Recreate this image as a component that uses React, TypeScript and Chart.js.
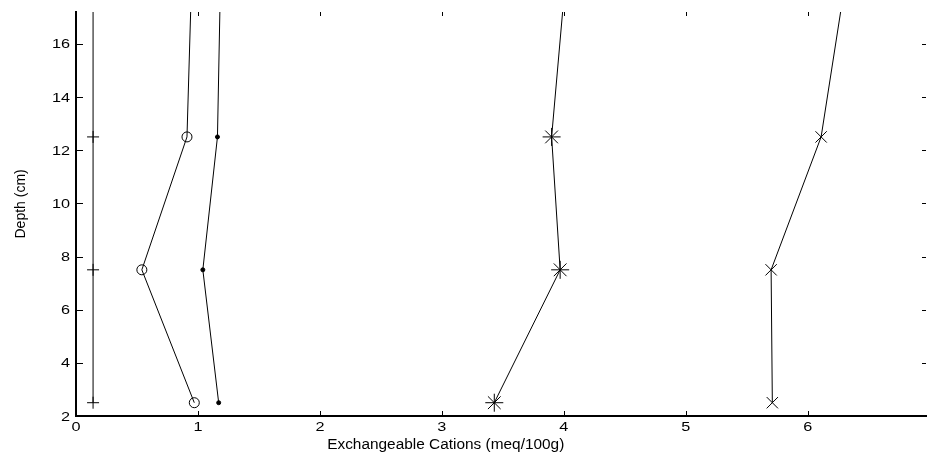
import React, { useEffect, useRef } from "react";
import { Chart, registerables } from "chart.js";

Chart.register(...registerables);

// Depths (cm) — last depth lies above the visible axis and is clipped
const depths = [2.5, 7.5, 12.5, 17.5];

// Exchangeable cations (meq/100g) per series
const seriesPlus = [0.14, 0.14, 0.14, 0.14];
const seriesCircle = [0.97, 0.54, 0.91, 0.942];
const seriesDot = [1.17, 1.04, 1.16, 1.181];
const seriesStar = [3.43, 3.97, 3.9, 3.996];
const seriesX = [5.71, 5.7, 6.11, 6.28];

const xTicks = [0, 1, 2, 3, 4, 5, 6];
const yTicks = [2, 4, 6, 8, 10, 12, 14, 16];

const xTitle = "Exchangeable Cations (meq/100g)";
const yTitle = "Depth (cm)";

const FONT = "'Liberation Sans', Arial, sans-serif";

function pts(xs: number[]) {
  return xs.map((x, i) => ({ x, y: depths[i] }));
}

function radii(r: number) {
  return depths.map((d) => (d > 17.2 ? 0 : r));
}

const decorPlugin = {
  id: "decor",
  afterDraw(chart: any) {
    const { ctx, chartArea } = chart;
    const xs = chart.scales.x;
    const ys = chart.scales.y;
    ctx.save();
    ctx.strokeStyle = "#000";
    ctx.lineWidth = 1;
    ctx.beginPath();
    xTicks.forEach((v) => {
      const px = Math.round(xs.getPixelForValue(v)) + 0.5;
      ctx.moveTo(px, chartArea.bottom);
      ctx.lineTo(px, chartArea.bottom - 5);
      ctx.moveTo(px, chartArea.top);
      ctx.lineTo(px, chartArea.top + 4);
    });
    yTicks.forEach((v) => {
      const py = Math.round(ys.getPixelForValue(v)) + 0.5;
      ctx.moveTo(chartArea.left, py);
      ctx.lineTo(chartArea.left + 7, py);
      ctx.moveTo(chartArea.right, py);
      ctx.lineTo(chartArea.right - 4, py);
    });
    ctx.stroke();

    ctx.fillStyle = "#000";
    // tick labels (slightly widened glyphs like the original rendering)
    ctx.font = `13px ${FONT}`;
    ctx.textBaseline = "middle";
    ctx.textAlign = "center";
    xTicks.forEach((v) => {
      ctx.save();
      ctx.translate(xs.getPixelForValue(v), chartArea.bottom + 11);
      ctx.scale(1.25, 1);
      ctx.fillText(String(v), 0, 0);
      ctx.restore();
    });
    ctx.textAlign = "right";
    yTicks.forEach((v) => {
      ctx.save();
      ctx.translate(chartArea.left - 6, ys.getPixelForValue(v) + 1);
      ctx.scale(1.25, 1);
      ctx.fillText(String(v), 0, 0);
      ctx.restore();
    });

    // axis titles
    ctx.font = `14px ${FONT}`;
    ctx.textAlign = "center";
    ctx.textBaseline = "alphabetic";
    const cx = chartArea.left + 0.435 * (chartArea.right - chartArea.left);
    ctx.save();
    ctx.translate(cx, chartArea.bottom + 33);
    ctx.scale(1.1, 1);
    ctx.fillText(xTitle, 0, 0);
    ctx.restore();

    ctx.translate(21, chartArea.top + 0.475 * (chartArea.bottom - chartArea.top));
    ctx.rotate(-Math.PI / 2);
    ctx.textBaseline = "middle";
    ctx.fillText(yTitle, 0, 0);
    ctx.restore();
  },
};

export default function App() {
  const ref = useRef<HTMLCanvasElement | null>(null);

  useEffect(() => {
    if (!ref.current) return;
    const common = {
      borderColor: "#000",
      borderWidth: 1,
      showLine: true,
      pointBorderColor: "#000",
      pointBorderWidth: 1,
      clip: 0,
    };
    const chart = new Chart(ref.current, {
      type: "scatter",
      data: {
        datasets: [
          { ...common, data: pts(seriesPlus), pointStyle: "cross", pointRadius: radii(6), backgroundColor: "rgba(0,0,0,0)" },
          { ...common, data: pts(seriesCircle), pointStyle: "circle", pointRadius: radii(5), backgroundColor: "rgba(0,0,0,0)" },
          { ...common, data: pts(seriesDot), pointStyle: "circle", pointRadius: radii(2), backgroundColor: "#000" },
          { ...common, data: pts(seriesStar), pointStyle: "star", pointRadius: radii(9), backgroundColor: "rgba(0,0,0,0)" },
          { ...common, data: pts(seriesX), pointStyle: "crossRot", pointRadius: radii(8), backgroundColor: "rgba(0,0,0,0)" },
        ] as any,
      },
      options: {
        animation: false,
        responsive: false,
        layout: { autoPadding: false, padding: { top: 12, right: 1, left: 0, bottom: 0 } },
        plugins: { legend: { display: false }, tooltip: { enabled: false } },
        elements: { line: { tension: 0 } },
        scales: {
          x: {
            type: "linear",
            min: 0,
            max: 6.97,
            grid: { display: false, drawTicks: false },
            border: { display: true, color: "#000", width: 2 },
            ticks: { display: false },
            afterBuildTicks: (s: any) => {
              s.ticks = xTicks.map((v) => ({ value: v }));
            },
            afterFit: (s: any) => {
              s.height = 36;
              s.paddingLeft = 0;
              s.paddingRight = 0;
            },
          },
          y: {
            type: "linear",
            min: 2,
            max: 17.2,
            grid: { display: false, drawTicks: false },
            border: { display: true, color: "#000", width: 2 },
            ticks: { display: false },
            afterBuildTicks: (s: any) => {
              s.ticks = yTicks.map((v) => ({ value: v }));
            },
            afterFit: (s: any) => {
              s.width = 76;
              s.paddingTop = 0;
              s.paddingBottom = 0;
            },
          },
        },
      } as any,
      plugins: [decorPlugin],
    });
    return () => chart.destroy();
  }, []);

  return (
    <div style={{ position: "absolute", left: 0, top: 0, width: 927, height: 452, background: "#fff" }}>
      <canvas ref={ref} width={927} height={452} />
    </div>
  );
}
